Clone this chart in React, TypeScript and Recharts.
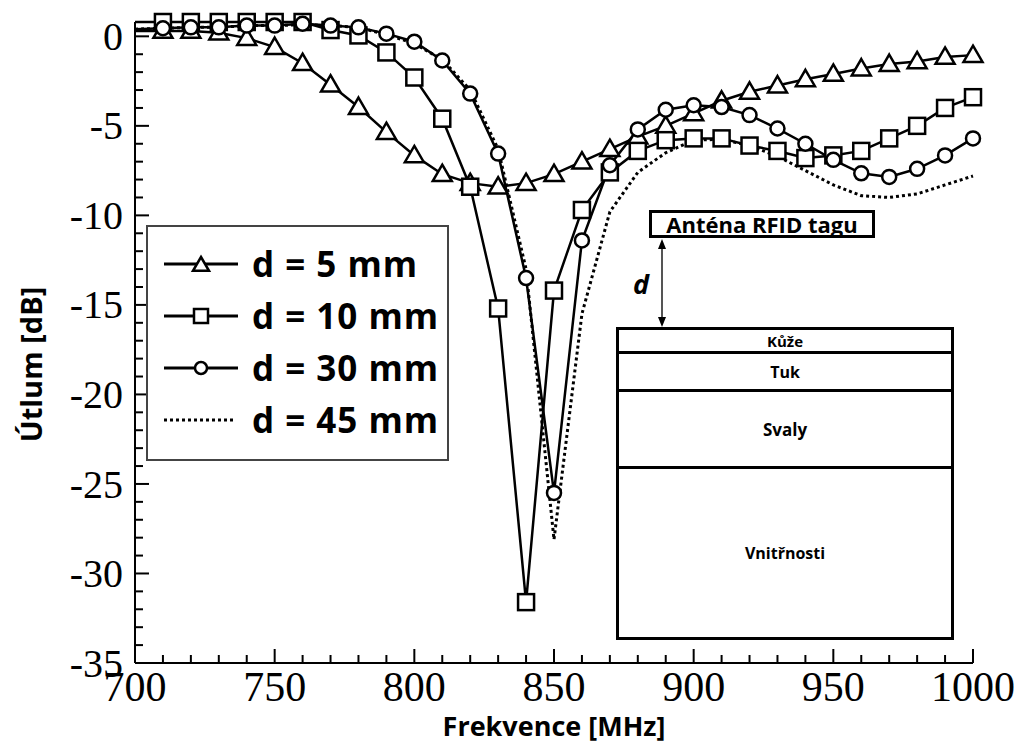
import React from 'react';
import { LineChart, Line, XAxis, YAxis, Legend, Label } from 'recharts';

// Frequency sweep in MHz
const freqs = [700, 710, 720, 730, 740, 750, 760, 770, 780, 790, 800, 810, 820, 830, 840, 850, 860, 870, 880, 890, 900, 910, 920, 930, 940, 950, 960, 970, 980, 990, 1000];

// Attenuation in dB for each antenna-to-skin distance
const d5 = [0.3, 0.3, 0.3, 0.2, -0.1, -0.6, -1.5, -2.7, -3.95, -5.35, -6.65, -7.7, -8.2, -8.4, -8.2, -7.7, -7.0, -6.3, -5.6, -5.0, -4.3, -3.6, -3.1, -2.75, -2.4, -2.1, -1.8, -1.55, -1.4, -1.15, -1.05];
const d10 = [0.8, 0.8, 0.8, 0.8, 0.8, 0.8, 0.8, 0.35, 0.05, -0.9, -2.3, -4.6, -8.4, -15.2, -31.6, -14.2, -9.7, -7.6, -6.4, -5.8, -5.7, -5.7, -6.1, -6.4, -6.8, -6.65, -6.4, -5.7, -5.0, -4.0, -3.4];
const d30 = [0.4, 0.45, 0.5, 0.5, 0.6, 0.6, 0.7, 0.6, 0.5, 0.15, -0.3, -1.35, -3.2, -6.55, -13.5, -25.5, -11.4, -7.2, -5.2, -4.1, -3.85, -3.95, -4.4, -5.15, -6.0, -6.9, -7.65, -7.85, -7.4, -6.65, -5.7];
const d45 = [0.4, 0.45, 0.5, 0.5, 0.6, 0.6, 0.65, 0.6, 0.5, 0.1, -0.4, -1.3, -3.0, -6.3, -13.0, -28.1, -15.5, -9.8, -7.6, -6.5, -5.8, -5.75, -6.1, -6.7, -7.5, -8.3, -8.9, -9.0, -8.8, -8.3, -7.8];

// Axis ticks (minor + major) and labelled steps
const xTicks = [700, 710, 720, 730, 740, 750, 760, 770, 780, 790, 800, 810, 820, 830, 840, 850, 860, 870, 880, 890, 900, 910, 920, 930, 940, 950, 960, 970, 980, 990, 1000];
const yTicks = [0, -1, -2, -3, -4, -5, -6, -7, -8, -9, -10, -11, -12, -13, -14, -15, -16, -17, -18, -19, -20, -21, -22, -23, -24, -25, -26, -27, -28, -29, -30, -31, -32, -33, -34, -35];
const xStep = 50;
const yStep = 5;

const seriesOrder = ['d5', 'd10', 'd30', 'd45'];
const seriesNames: Record<string, string> = {
  d5: 'd = 5 mm',
  d10: 'd = 10 mm',
  d30: 'd = 30 mm',
  d45: 'd = 45 mm',
};

// Tissue layers under the tag antenna
const layers = ['Kůže', 'Tuk', 'Svaly', 'Vnitřnosti'];

const data = freqs.map((f, i) => ({ f, d5: d5[i], d10: d10[i], d30: d30[i], d45: d45[i] }));

const SANS = '"Open Sans", "DejaVu Sans", sans-serif';
const SERIF = '"Liberation Serif", "DejaVu Serif", serif';

// ---- markers (none on the first sample, it sits on the frame) ----
const triangle = (cx: number, cy: number, s: number) =>
  `M${cx},${cy - s} L${cx + s},${cy + s * 0.72} L${cx - s},${cy + s * 0.72} Z`;

const hidden = (p: any) => p.cx == null || p.cy == null || p.index === 0;

const TriangleDot = (p: any) => {
  if (hidden(p)) return <g key={p.index} />;
  return <path key={p.index} d={triangle(p.cx, p.cy, 9.5)} fill="#fff" stroke="#000" strokeWidth={2.5} />;
};
const SquareDot = (p: any) => {
  if (hidden(p)) return <g key={p.index} />;
  return <rect key={p.index} x={p.cx - 8} y={p.cy - 8} width={16} height={16} fill="#fff" stroke="#000" strokeWidth={2.5} />;
};
const CircleDot = (p: any) => {
  if (hidden(p)) return <g key={p.index} />;
  return <circle key={p.index} cx={p.cx} cy={p.cy} r={7} fill="#fff" stroke="#000" strokeWidth={2.5} />;
};

// ---- ticks drawn inside the frame ----
const BottomTick = (p: any) => {
  const major = p.payload.value % xStep === 0;
  return (
    <g>
      <line x1={p.x} x2={p.x} y1={p.y} y2={p.y - (major ? 14 : 8)} stroke="#000" strokeWidth={2} />
      {major && (
        <text x={p.x} y={p.y + 24} dy="0.34em" textAnchor="middle" fontFamily={SERIF} fontSize={42} fill="#000">
          {p.payload.value}
        </text>
      )}
    </g>
  );
};
const TopTick = (p: any) => {
  const major = p.payload.value % xStep === 0;
  return <line x1={p.x} x2={p.x} y1={p.y} y2={p.y + (major ? 14 : 8)} stroke="#000" strokeWidth={2} />;
};
const LeftTick = (p: any) => {
  const major = p.payload.value % yStep === 0;
  return (
    <g>
      <line x1={p.x} x2={p.x + (major ? 14 : 8)} y1={p.y} y2={p.y} stroke="#000" strokeWidth={2} />
      {major && (
        <text x={p.x - 12} y={p.y} dy="0.34em" textAnchor="end" fontFamily={SERIF} fontSize={40} fill="#000">
          {String(p.payload.value)}
        </text>
      )}
    </g>
  );
};
const RightTick = (p: any) => {
  const major = p.payload.value % yStep === 0;
  return <line x1={p.x} x2={p.x - (major ? 14 : 8)} y1={p.y} y2={p.y} stroke="#000" strokeWidth={2} />;
};

// ---- axis titles ----
const XTitle = (p: any) => {
  const vb = p.viewBox ?? { x: 135, y: 663, width: 838, height: 79 };
  return (
    <text x={vb.x + vb.width / 2} y={vb.y + 62} textAnchor="middle" dominantBaseline="central" fontFamily={SANS} fontWeight={700} fontSize={27} fill="#000">
      Frekvence [MHz]
    </text>
  );
};
const YTitle = (p: any) => {
  const vb = p.viewBox ?? { x: 0, y: 22, width: 135, height: 641 };
  const cx = vb.x + 30;
  const cy = vb.y + vb.height / 2 + 22;
  return (
    <text x={cx} y={cy} transform={`rotate(-90 ${cx} ${cy})`} textAnchor="middle" dominantBaseline="central" fontFamily={SANS} fontWeight={700} fontSize={29} fill="#000">
      Útlum [dB]
    </text>
  );
};

// ---- legend ----
const LegendGlyph = ({ k }: { k: string }) => (
  <svg width={78} height={30} style={{ display: 'block' }}>
    {k === 'd45' ? (
      <line x1={2} x2={72} y1={15} y2={15} stroke="#000" strokeWidth={3} strokeDasharray="3 3" />
    ) : (
      <line x1={2} x2={76} y1={15} y2={15} stroke="#000" strokeWidth={3} />
    )}
    {k === 'd5' && <path d={triangle(39, 16, 8)} fill="#fff" stroke="#000" strokeWidth={2.5} />}
    {k === 'd10' && <rect x={32} y={8} width={14} height={14} fill="#fff" stroke="#000" strokeWidth={2.5} />}
    {k === 'd30' && <circle cx={39} cy={15} r={6} fill="#fff" stroke="#000" strokeWidth={2.5} />}
  </svg>
);

const LegendBox = (props: any) => {
  const items = [...(props.payload ?? [])].sort(
    (a: any, b: any) => seriesOrder.indexOf(a.dataKey) - seriesOrder.indexOf(b.dataKey)
  );
  return (
    <div
      style={{
        boxSizing: 'border-box',
        width: 303,
        height: 236,
        border: '2px solid #444',
        background: '#fff',
        padding: '11px 0 0 14px',
      }}
    >
      {items.map((it: any) => (
        <div key={it.dataKey} style={{ display: 'flex', alignItems: 'center', height: 52 }}>
          <LegendGlyph k={it.dataKey} />
          <span style={{ marginLeft: 12, fontFamily: SANS, fontWeight: 700, fontSize: 35, letterSpacing: 1, color: '#000', lineHeight: '52px' }}>
            {it.value}
          </span>
        </div>
      ))}
    </div>
  );
};

// ---- tissue model inset ----
const layerHeights = [21, 38, 77, 171];
const layerFont = [15, 16, 17, 16];

const TissueInset = () => (
  <>
    <div
      style={{
        position: 'absolute',
        left: 649,
        top: 210,
        width: 226,
        height: 28,
        boxSizing: 'border-box',
        border: '3px solid #000',
        background: '#fff',
        fontFamily: SANS,
        fontWeight: 700,
        fontSize: 22,
        lineHeight: '22px',
        textAlign: 'center',
        color: '#000',
      }}
    >
      Anténa RFID tagu
    </div>
    <svg style={{ position: 'absolute', left: 650, top: 238 }} width={24} height={92}>
      <line x1={12} x2={12} y1={6} y2={84} stroke="#555" strokeWidth={2} />
      <path d="M12,1 L16,11 L8,11 Z" fill="#000" />
      <path d="M12,89 L16,79 L8,79 Z" fill="#000" />
    </svg>
    <div
      style={{
        position: 'absolute',
        left: 633,
        top: 266,
        fontFamily: SANS,
        fontWeight: 700,
        fontStyle: 'italic',
        fontSize: 27,
        lineHeight: '36px',
        color: '#000',
      }}
    >
      d
    </div>
    <div
      style={{
        position: 'absolute',
        left: 616,
        top: 327,
        width: 338,
        boxSizing: 'border-box',
        border: '3px solid #000',
        background: '#fff',
      }}
    >
      {layers.map((name, i) => (
        <div
          key={name}
          style={{
            boxSizing: 'border-box',
            height: layerHeights[i],
            borderTop: i === 0 ? 'none' : '3px solid #000',
            display: 'flex',
            alignItems: 'center',
            justifyContent: 'center',
            fontFamily: SANS,
            fontWeight: 700,
            fontSize: layerFont[i],
            color: '#000',
          }}
        >
          {name}
        </div>
      ))}
    </div>
  </>
);

const axisStroke = { stroke: '#000', strokeWidth: 2 };

export default function App() {
  return (
    <div style={{ position: 'absolute', left: 0, top: 0, width: 1014, height: 742, background: '#fff' }}>
      <LineChart width={1014} height={742} data={data} margin={{ top: 22, right: 41, bottom: 0, left: 0 }}>
        <XAxis
          dataKey="f"
          type="number"
          domain={[700, 1000]}
          ticks={xTicks}
          interval={0}
          height={79}
          tickSize={0}
          tickMargin={0}
          tickLine={false}
          axisLine={axisStroke}
          tick={BottomTick}
        >
          <Label content={XTitle} />
        </XAxis>
        <XAxis
          xAxisId="top"
          orientation="top"
          type="number"
          domain={[700, 1000]}
          allowDataOverflow
          ticks={xTicks}
          interval={0}
          height={0}
          tickSize={0}
          tickMargin={0}
          tickLine={false}
          axisLine={axisStroke}
          tick={TopTick}
        />
        <YAxis
          type="number"
          domain={[-35, 0.8]}
          ticks={yTicks}
          interval={0}
          width={135}
          tickSize={0}
          tickMargin={0}
          tickLine={false}
          axisLine={axisStroke}
          tick={LeftTick}
        >
          <Label content={YTitle} />
        </YAxis>
        <YAxis
          yAxisId="right"
          orientation="right"
          type="number"
          domain={[-35, 0.8]}
          allowDataOverflow
          ticks={yTicks}
          interval={0}
          width={0}
          tickSize={0}
          tickMargin={0}
          tickLine={false}
          axisLine={axisStroke}
          tick={RightTick}
        />
        <Legend
          layout="vertical"
          align="center"
          verticalAlign="middle"
          wrapperStyle={{ left: 146, top: 225, width: 303 }}
          content={LegendBox}
        />
        <Line type="linear" dataKey="d45" name={seriesNames.d45} stroke="#000" strokeWidth={3} strokeDasharray="3 3" dot={false} activeDot={false} isAnimationActive={false} />
        <Line type="linear" dataKey="d5" name={seriesNames.d5} stroke="#000" strokeWidth={2.5} dot={TriangleDot} activeDot={false} isAnimationActive={false} />
        <Line type="linear" dataKey="d10" name={seriesNames.d10} stroke="#000" strokeWidth={2.5} dot={SquareDot} activeDot={false} isAnimationActive={false} />
        <Line type="linear" dataKey="d30" name={seriesNames.d30} stroke="#000" strokeWidth={2.5} dot={CircleDot} activeDot={false} isAnimationActive={false} />
      </LineChart>
      <TissueInset />
    </div>
  );
}
